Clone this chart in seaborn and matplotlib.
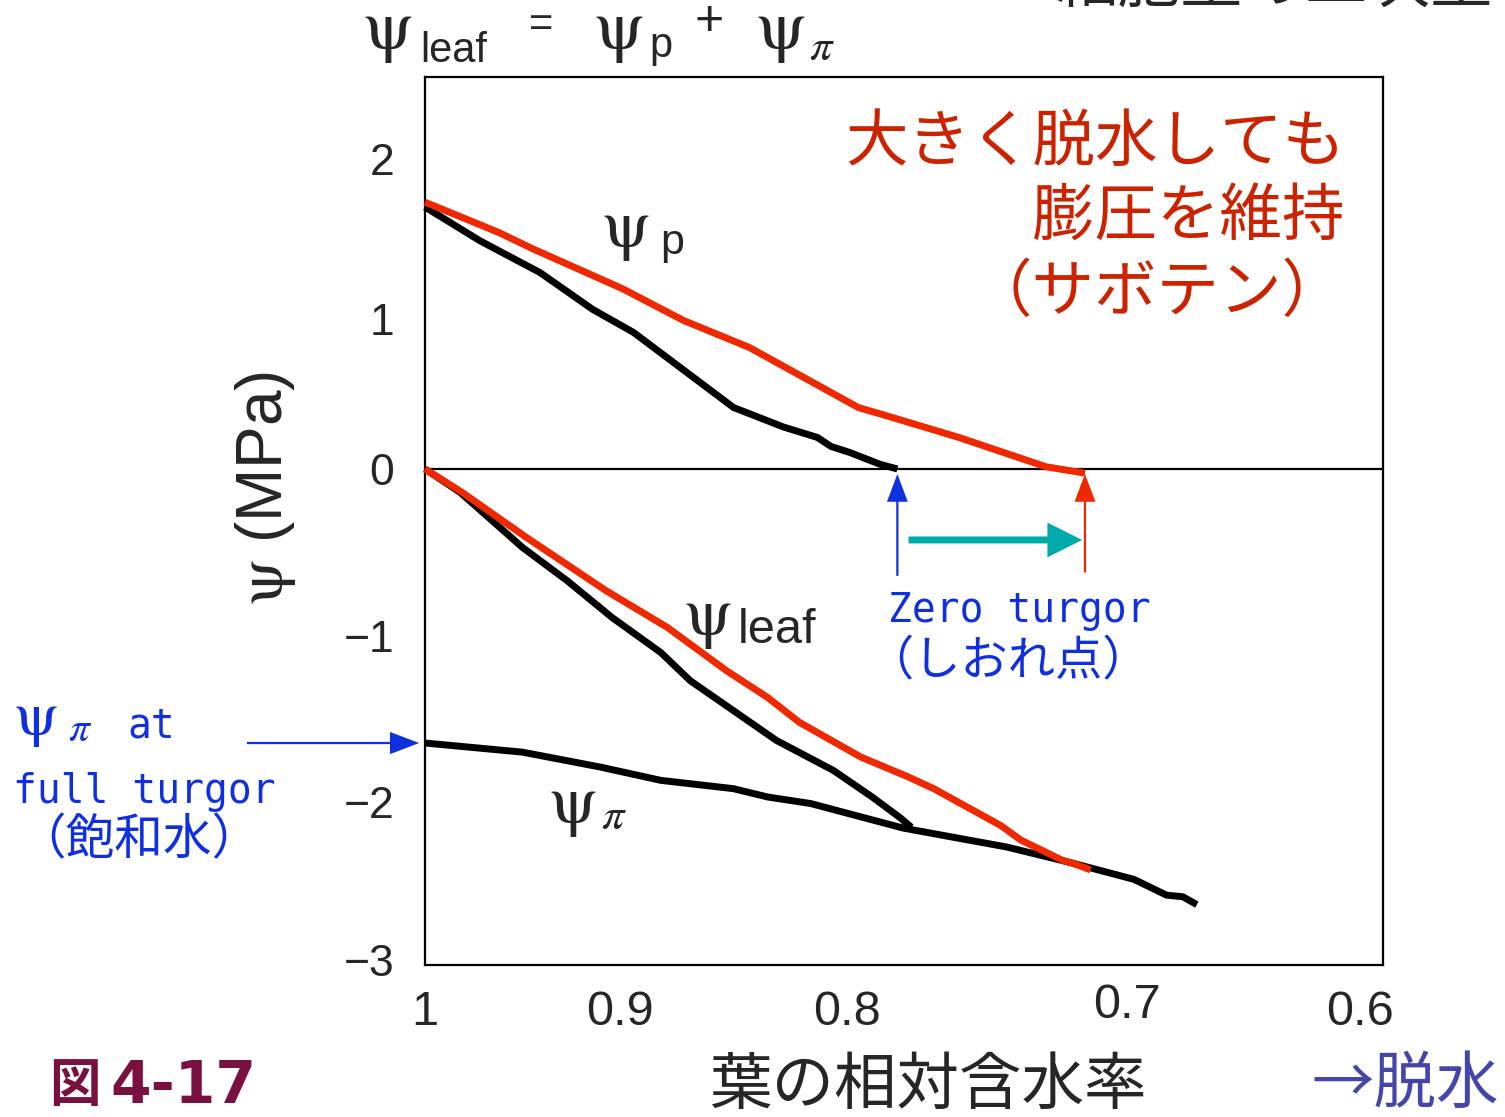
import numpy as np
import pandas as pd
import matplotlib
matplotlib.use("Agg")
import matplotlib.pyplot as plt
import seaborn as sns

# ---- data: relative water content vs. water potential components (MPa) ----
# ordinary leaf (black)
rwc_p_normal = [1.000, 0.972, 0.941, 0.914, 0.894, 0.872, 0.850, 0.828, 0.813, 0.807, 0.799, 0.788, 0.782]
psi_p_normal = [1.70, 1.49, 1.29, 1.06, 0.91, 0.66, 0.41, 0.28, 0.21, 0.15, 0.11, 0.03, 0.00]

rwc_leaf_normal = [1.000, 0.982, 0.950, 0.927, 0.904, 0.882, 0.869, 0.850, 0.831, 0.806, 0.791, 0.781, 0.777]
psi_leaf_normal = [0.00, -0.14, -0.47, -0.67, -0.89, -1.10, -1.27, -1.45, -1.63, -1.81, -1.97, -2.10, -2.16]

rwc_pi = [1.000, 0.950, 0.910, 0.882, 0.850, 0.835, 0.816, 0.780, 0.760, 0.743, 0.721, 0.697, 0.683, 0.676, 0.670]
psi_pi = [-1.645, -1.70, -1.79, -1.87, -1.92, -1.97, -2.01, -2.165, -2.23, -2.285, -2.38, -2.49, -2.59, -2.60, -2.65]

# cactus (red)
rwc_p_cactus = [1.000, 0.962, 0.945, 0.899, 0.872, 0.843, 0.813, 0.796, 0.785, 0.760, 0.729, 0.715]
psi_p_cactus = [1.73, 1.54, 1.44, 1.19, 0.99, 0.81, 0.56, 0.41, 0.35, 0.21, 0.015, -0.025]

rwc_leaf_cactus = [1.000, 0.981, 0.948, 0.907, 0.879, 0.853, 0.835, 0.821, 0.795, 0.778, 0.769, 0.745,
                   0.738, 0.723, 0.719, 0.713]
psi_leaf_cactus = [0.00, -0.14, -0.41, -0.73, -0.95, -1.21, -1.37, -1.52, -1.73, -1.85, -1.92, -2.15,
                   -2.24, -2.37, -2.39, -2.43]

x_ticks = [1.0, 0.9, 0.8, 0.7, 0.6]
x_ticklabels = ["1", "0.9", "0.8", "0.7", "0.6"]
y_ticks = [2, 1, 0, -1, -2, -3]
y_ticklabels = ["2", "1", "0", "\u22121", "\u22122", "\u22123"]

# the printed axes space their unit steps unevenly
x_knots = np.array([0.5, 0.6, 0.7, 0.8, 0.9, 1.0, 1.1])
x_len = np.cumsum([0, 233, 233, 280, 227, 195, 195]).astype(float)
y_knots = np.arange(-4, 4).astype(float)
y_len = np.cumsum([0, 158, 158, 166, 167, 150, 160, 160]).astype(float)

frames = []
for rwc, psi, curve, plant in [
    (rwc_p_normal, psi_p_normal, "p", "normal"),
    (rwc_leaf_normal, psi_leaf_normal, "leaf", "normal"),
    (rwc_pi, psi_pi, "pi", "normal"),
    (rwc_p_cactus, psi_p_cactus, "p", "cactus"),
    (rwc_leaf_cactus, psi_leaf_cactus, "leaf", "cactus"),
]:
    frames.append(pd.DataFrame({"rwc": rwc, "psi": psi, "curve": curve, "plant": plant}))
df = pd.concat(frames, ignore_index=True)

sns.set_style("white")
plt.rcParams["font.family"] = ["Liberation Sans", "Noto Sans CJK JP", "DejaVu Sans"]
plt.rcParams["mathtext.fontset"] = "stix"

W, H = 1505, 1117
fig = plt.figure(figsize=(W / 100, H / 100), dpi=100)
ax = fig.add_axes([425 / W, 1 - 965 / H, 958 / W, 888 / H])

ax.set_xscale("function", functions=(lambda v: np.interp(v, x_knots, x_len),
                                     lambda p: np.interp(p, x_len, x_knots)))
ax.set_yscale("function", functions=(lambda v: np.interp(v, y_knots, y_len),
                                     lambda p: np.interp(p, y_len, y_knots)))

RED = "#F02800"
ax.axhline(0, color="black", lw=1.6, zorder=2)

sns.lineplot(data=df, x="rwc", y="psi", hue="plant", units="curve", estimator=None, sort=False,
             hue_order=["normal", "cactus"], palette={"normal": "black", "cactus": RED},
             lw=5, legend=False, ax=ax, zorder=3, clip_on=False)
for ln in ax.lines:
    ln.set_solid_capstyle("butt")
    ln.set_solid_joinstyle("round")

ax.set_xlim(1.0, 0.5901)
ax.set_ylim(-3.032, 2.5125)
ax.set_xticks(x_ticks, x_ticklabels)
ax.set_yticks(y_ticks, y_ticklabels)
ax.set_xlabel("")
ax.set_ylabel("")
ax.minorticks_off()
ax.tick_params(axis="x", direction="in", length=18, width=1.5, pad=18, labelsize=35)
ax.tick_params(axis="y", direction="in", length=19.5, width=1.5, pad=22, labelsize=32)
xt = ax.xaxis.get_major_ticks()
xt[0].tick1line.set_visible(False)
xt[-1].tick1line.set_visible(False)
xt[3].label1.set_y(0.008)
for s in ax.spines.values():
    s.set_linewidth(1.6)
    s.set_color("black")

BLUE = "#1030E0"
TEAL = "#00AAAA"

# zero-turgor markers at the ends of the turgor curves
y_arrow_tail = -0.64
ax.annotate("", xy=(rwc_p_normal[-1], -0.03), xytext=(rwc_p_normal[-1], y_arrow_tail),
            arrowprops=dict(arrowstyle="simple,head_length=20,head_width=15,tail_width=1.6",
                            mutation_scale=1, fc=BLUE, ec="none", shrinkA=0, shrinkB=0))
ax.annotate("", xy=(rwc_p_cactus[-1], -0.03), xytext=(rwc_p_cactus[-1], y_arrow_tail + 0.02),
            arrowprops=dict(arrowstyle="simple,head_length=20,head_width=15,tail_width=1.6",
                            mutation_scale=1, fc=RED, ec="none", shrinkA=0, shrinkB=0))
ax.annotate("", xy=(rwc_p_cactus[-1] + 0.001, -0.425), xytext=(rwc_p_normal[-1] - 0.004, -0.425),
            arrowprops=dict(arrowstyle="simple,head_length=25,head_width=25,tail_width=5",
                            mutation_scale=1, fc=TEAL, ec="none", shrinkA=0, shrinkB=0))
# osmotic potential at full turgor
ax.annotate("", xy=(1.003, psi_pi[0]), xytext=(1.0913, psi_pi[0]), annotation_clip=False,
            arrowprops=dict(arrowstyle="simple,head_length=21,head_width=16,tail_width=1.6",
                            mutation_scale=1, fc=BLUE, ec="none", shrinkA=0, shrinkB=0))


def fx(p):
    return p / W


def fy(p):
    return 1 - p / H


JP = ["Noto Sans CJK JP", "DejaVu Sans"]
MONO = ["DejaVu Sans Mono", "Noto Sans CJK JP"]
SANS = ["Liberation Sans", "DejaVu Sans"]
PSI = r"$\mathrm{\psi}$"

# equation at the top
fig.text(fx(363), fy(65), PSI, size=50, va="bottom")
fig.text(fx(420), fy(62), "leaf", size=30, va="baseline", family=SANS)
fig.text(fx(541), fy(25), "=", size=30, ha="center", va="center", family=SANS)
fig.text(fx(594), fy(65), PSI, size=50, va="bottom")
fig.text(fx(649), fy(57), "p", size=30, va="baseline", family=SANS)
fig.text(fx(709), fy(22), "+", size=36, ha="center", va="center", family=SANS)
fig.text(fx(756), fy(65), PSI, size=50, va="bottom")
fig.text(fx(809), fy(60), r"$\pi$", size=32, va="baseline")

# top caption partly outside the figure
fig.text(fx(1055), fy(3), "細胞壁の二次壁", size=45, va="baseline", family=JP)

# curve labels
fig.text(fx(602), fy(263), PSI, size=48, va="bottom")
fig.text(fx(660), fy(254), "p", size=31, va="baseline", family=SANS)
fig.text(fx(684), fy(651), PSI, size=48, va="bottom")
fig.text(fx(738), fy(643), "leaf", size=35, va="baseline", family=SANS)
fig.text(fx(549), fy(839), PSI, size=48, va="bottom")
fig.text(fx(601), fy(829), r"$\pi$", size=32, va="baseline")

# cactus note
RED_TXT = "#CC2200"
for txt, yy in [("大きく脱水しても", 143), ("膨圧を維持", 218), ("（サボテン）", 293)]:
    fig.text(fx(1345), fy(yy), txt, size=45, ha="right", va="center", color=RED_TXT, family=JP)

# zero turgor note
fig.text(fx(888), fy(622), "Zero turgor", size=28.5, va="baseline", color=BLUE, family=MONO)
fig.text(fx(866), fy(661), "（しおれ点）", size=34, va="center", color=BLUE, family=JP)

# full turgor note
fig.text(fx(14), fy(749), PSI, size=44, va="bottom", color=BLUE)
fig.text(fx(68), fy(741), r"$\pi$", size=30, va="baseline", color=BLUE)
fig.text(fx(127), fy(737), "at", size=28.5, va="baseline", color=BLUE, family=MONO)
fig.text(fx(13), fy(803), "full turgor", size=28.5, va="baseline", color=BLUE, family=MONO)
fig.text(fx(17), fy(841), "（飽和水）", size=35, va="center", color=BLUE, family=JP)

# axis titles
fig.text(fx(265), fy(488), PSI + " (MPa)", size=46, rotation=90, ha="center", va="center", family=SANS)
fig.text(fx(928), fy(1086), "葉の相対含水率", size=45, ha="center", va="center", family=JP)
fig.text(fx(1312), fy(1085), "→脱水", size=45, va="center", color="#4646AA", family=JP)

# figure number
FIG_COLOR = "#7A1040"
fig.text(fx(49), fy(1086), "図", size=37, va="center", color=FIG_COLOR, family=JP, weight="bold")
fig.text(fx(110), fy(1103), "4-17", size=42, va="baseline", color=FIG_COLOR,
         family=["DejaVu Sans"], weight="bold")

fig.savefig("out.png", dpi=100)
